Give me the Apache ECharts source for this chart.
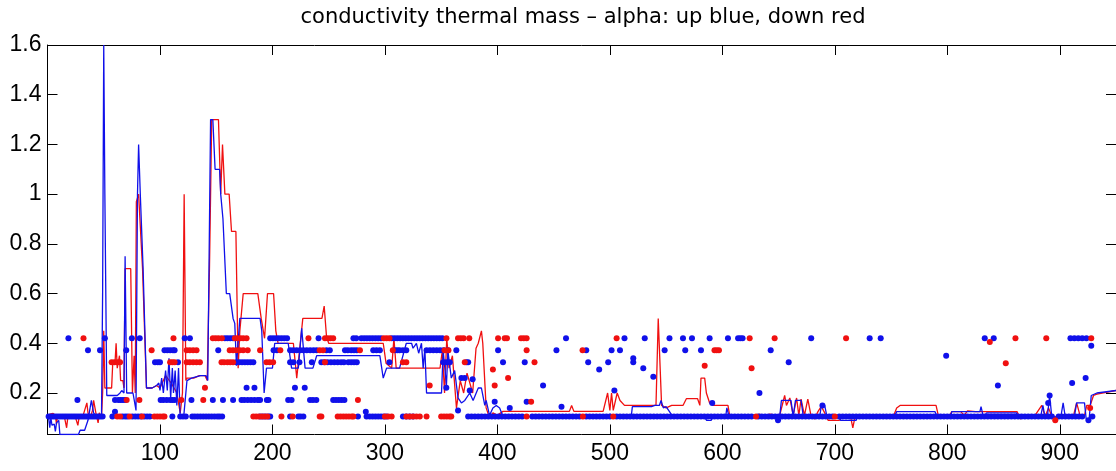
<!DOCTYPE html>
<html><head><meta charset="utf-8">
<script src="https://cdn.jsdelivr.net/npm/echarts@6/dist/echarts.min.js"></script>
<style>html,body{margin:0;padding:0;background:#fff}#c{width:1116px;height:471px}</style>
</head><body><div id="c"></div>
<script>
const titleText = 'conductivity thermal mass \u2013 alpha: up blue, down red';
const xTicks = [100,200,300,400,500,600,700,800,900];
const yTicks = [0.2,0.4,0.6,0.8,1,1.2,1.4,1.6];
const xRange = [0, 950];
const yRange = [0.033, 1.6];

// dot rows (alpha levels)
const levels = { l42: 0.42, l37: 0.372, l32: 0.324, l22: 0.221, l17: 0.172, l10: 0.105 };

const redLine = [[1,0.1],[2,0.115],[5,0.118],[7,0.11],[8,0.075],[9,0.11],[11,0.108],[13,0.11],[15,0.105],[17,0.06],[18,0.1],[20,0.108],[22,0.105],[25,0.1],[27,0.07],[28,0.1],[31,0.1],[33,0.13],[35,0.16],[36,0.12],[38,0.1],[40,0.13],[41,0.17],[43,0.12],[45,0.08],[46,0.12],[48,0.1],[49,0.2],[50,0.45],[51,0.22],[54,0.22],[57,0.22],[58,0.32],[60,0.32],[61,0.4],[62,0.3],[64,0.35],[65,0.25],[67,0.25],[68,0.22],[69,0.7],[74,0.7],[75.5,0.2],[77,0.35],[78,0.2],[79,0.97],[81,1.0],[84.5,0.7],[88,0.22],[93,0.22],[97,0.23],[100,0.22],[105,0.27],[110,0.24],[115,0.2],[118,0.12],[120,0.2],[121.5,1.0],[123,0.25],[124,0.26],[130,0.26],[135,0.27],[140,0.27],[142,0.25],[144,0.7],[146,1.3],[152,1.3],[154,1.0],[155.6,1.2],[157.7,1.0],[161.5,1.0],[163.6,0.85],[167.5,0.85],[169.5,0.3],[171,0.45],[174,0.6],[187,0.6],[190,0.5],[193,0.42],[195.6,0.6],[201,0.6],[203,0.45],[205,0.4],[215,0.4],[218.6,0.4],[221.6,0.26],[227,0.5],[244,0.5],[246,0.55],[248,0.43],[250,0.4],[298.5,0.4],[301,0.32],[306,0.3],[308,0.42],[310,0.3],[349,0.3],[351,0.37],[353,0.2],[355,0.42],[357,0.3],[360,0.35],[363.6,0.14],[367,0.25],[370,0.2],[373,0.28],[378,0.2],[381,0.38],[383,0.4],[385.8,0.45],[387,0.4],[390,0.14],[393,0.1],[396,0.12],[400,0.11],[403,0.12],[405,0.126],[464,0.126],[466,0.15],[468,0.126],[494,0.126],[498,0.2],[500,0.13],[501.5,0.2],[503,0.13],[506.5,0.2],[509,0.17],[513,0.15],[538.6,0.15],[541,0.15],[543,0.5],[546,0.15],[550,0.14],[555,0.15],[565,0.15],[568,0.177],[578,0.177],[580,0.15],[581,0.26],[584.3,0.26],[585.8,0.2],[588.7,0.16],[591.7,0.15],[605,0.15],[606.5,0.11],[630,0.11],[633,0.115],[637,0.105],[642,0.115],[651,0.11],[655.4,0.19],[657,0.15],[660,0.18],[663,0.11],[666,0.18],[668,0.11],[670,0.175],[673,0.11],[676,0.175],[679,0.105],[682,0.095],[685,0.125],[688,0.146],[691,0.12],[694,0.09],[704,0.09],[707,0.105],[714,0.105],[716,0.06],[718,0.105],[752,0.105],[755,0.14],[758,0.15],[790,0.15],[792,0.11],[802,0.11],[804,0.125],[812,0.125],[815,0.11],[818,0.128],[825,0.125],[835,0.125],[845,0.125],[855,0.125],[862,0.125],[865,0.095],[868,0.11],[878,0.11],[881,0.13],[884,0.15],[887,0.105],[890,0.14],[893,0.105],[912,0.105],[915,0.16],[918,0.11],[922,0.11],[924,0.15],[927,0.15],[930,0.19],[933,0.195],[950,0.21]];

const blueLine = [[1,0.1],[2,0.06],[3,0.1],[4,0.07],[6,0.075],[7,0.045],[8,0.08],[10,0.09],[11,0.033],[27.5,0.033],[29,0.05],[33,0.05],[36,0.09],[39,0.17],[41,0.12],[44,0.1],[48,0.1],[49,0.6],[50,1.6],[51,1.0],[52.7,0.19],[58,0.19],[62,0.19],[64.5,0.2],[66,0.21],[68,0.2],[69,0.75],[70.4,0.2],[76,0.2],[78.7,0.13],[80,1.0],[81,1.2],[82.5,1.0],[85,0.7],[88,0.22],[93,0.22],[97,0.23],[99,0.24],[100,0.21],[101.5,0.26],[103,0.2],[105,0.29],[106.5,0.21],[108,0.34],[109.5,0.18],[111,0.3],[112,0.2],[113.5,0.29],[115,0.15],[116.5,0.3],[118,0.1],[121,0.1],[124,0.25],[128,0.26],[132,0.265],[136,0.27],[141,0.27],[142.5,0.25],[145,1.3],[147,1.3],[149,1.1],[153,1.1],[154,1.0],[156,0.9],[159,0.6],[162,0.6],[165,0.5],[166.5,0.48],[168,0.31],[171,0.5],[189,0.5],[190.5,0.45],[192.6,0.2],[194.7,0.3],[200,0.3],[202,0.4],[214,0.4],[217,0.3],[223,0.3],[226,0.46],[229,0.3],[236,0.3],[239.3,0.35],[295.5,0.35],[298.5,0.26],[301.5,0.3],[313,0.3],[319,0.4],[323.7,0.4],[325,0.38],[328,0.4],[330,0.36],[332.5,0.4],[334,0.3],[335.5,0.38],[337,0.2],[350.3,0.2],[351.8,0.37],[354.7,0.23],[356,0.37],[359,0.26],[362,0.29],[365,0.18],[368,0.16],[371,0.17],[375.4,0.2],[378.4,0.17],[383,0.22],[385.8,0.22],[388.8,0.15],[390,0.17],[393,0.11],[396,0.14],[399,0.15],[402,0.14],[405,0.105],[498,0.105],[500,0.115],[503,0.105],[519,0.105],[520,0.145],[537,0.145],[540,0.15],[544,0.15],[545.5,0.17],[547.5,0.14],[550,0.145],[556,0.105],[584,0.105],[586,0.09],[590,0.09],[592,0.105],[603,0.105],[604,0.14],[606,0.105],[651,0.105],[652.5,0.17],[661,0.17],[663,0.105],[665,0.17],[670,0.17],[672,0.105],[686.6,0.105],[688,0.15],[691,0.15],[693,0.105],[704,0.105],[705,0.09],[719,0.09],[720,0.105],[753,0.105],[755,0.125],[789,0.125],[791,0.105],[803,0.105],[804,0.125],[829,0.125],[830,0.145],[832,0.105],[835,0.12],[861.5,0.12],[863,0.105],[883,0.105],[885,0.15],[887,0.1],[889,0.105],[891,0.19],[893,0.1],[901,0.105],[903,0.16],[905,0.1],[913,0.105],[915,0.16],[922,0.16],[923.5,0.095],[926,0.09],[928,0.19],[933,0.2],[950,0.21]];

// blue dots: x positions per row
const blue42 = [18.6,51,75,82,122,126.6,157.7,160,162.5,165,198,200.5,203,205.5,208,210.5,213,241,272,274.5,279,281.5,284,286.5,289,291.5,294,296.5,306,308.5,311,313.5,316,318.5,321,323.5,326,328.5,331,333.5,336,338.5,341,343.5,346,348.5,351,461,513,531,553,565,573,588.7,605,614,616,618,679,731,740.8,833.3,841.3,909.5,913,916.5,920,923.7];
const blue37 = [36,46.7,70,104,106.5,109,111.5,113,151.8,201,204,215.7,218.5,221.5,224.6,227.5,230.5,233.5,236.5,239.3,248,251,264.5,267,270,272.5,275,289.6,292.5,295.5,309,311,313,316,319,337,340,343,346,349,352,356,363.5,400.6,452.5,479,501.5,509,548.7,567,581,643];
const blue32 = [95.6,98,100,116,168,170.5,173,175.5,178,180.5,183,215.7,218.6,224,235,243.5,246,249,252,255,258,261,263.5,267.5,270,272.5,275,304,351.8,354.5,357.7,372.5,374,405,424.3,480.7,498.5,520.8,659];
const blue22 = [177,184,220,228.7,354.6];
const blue17 = [26.6,60,63,65,67,69,100.6,103,106,109,111,113,128,147,156,165,172.5,175,178,181,184,187,189,195,196.5,214,217,233.4,236,239,254,256.5,259,261.5,264];
const blue10 = [1,3,5,7,9,11,13,15,17,19,21,23,25,27,29,31,33,35,37,39,41,43,45,47,49,57.7,66.6,69,71,75.4,78,80.5,83,86,88.5,91,111,118,120.5,123,128.7,131,133.5,136,138.5,141,143.5,146,148.5,151,153,155.3,189,191.5,194,196.5,198,215.7,223,225,227.5,276,283.7,286.5,289,291.5,294,296.5,299,301.5,316,319,322,325,374,377,380,383,386,389,392,395,398,401,404,407,410,413,416,419,422,431,434,437,440,443,446,449,452,455,458,461,464,467,470,473,479,482,485,488,491,494,497,500,506,509,512,515,518,521,524,527,530,533,536,539,542,545,548,551,554,557,560,563,566,569,572,575,578,581,584,587,590,593,596,599,602,605,608,611,614,617,620,623,626,632,635,638,641,644,647,650,653,656,659,662,665,668,671,674,677,680,683,686,689,692,695,698,704,707,710,713,716,719,722,725,728,731,734,737,740,743,746,749,752,755,758,761,764,767,770,773,776,779,782,785,788,791,794,797,800,803,806,809,812,815,818,821,824,827,830,833,836,839,842,845,848,851,854,857,860,863,866,869,872,875,878,881,884,887,890,893,899,902,905,908,911,914,917,920,929];
const blueOther = [[60,0.125],[283,0.125],[440.6,0.23],[457,0.145],[411,0.14],[397.6,0.165],[426,0.165],[490.5,0.295],[504,0.21],[529.7,0.3],[538.6,0.265],[378,0.255],[365,0.13],[375.4,0.21],[368,0.26],[371,0.26],[799,0.35],[911,0.24],[923,0.26],[845,0.23],[633,0.2],[591,0.16],[689,0.15],[889.7,0.16],[891,0.19],[925.5,0.09],[649.5,0.09],[928,0.39],[520.8,0.34]];

// red dots: x positions per row
const red42 = [32,112,147,149.5,152,155,166.6,169,171.5,174,177,232,246.7,249,251.5,254,299,301.5,304,354.7,365,367.5,370,375,400.6,406.5,408.5,421,423.5,426,506,624.3,646.5,710,860.6,888,928];
const red37 = [92.6,123.7,126.5,129.5,132.5,162,165,168,171,174,178,189,207,242,245,277.8,307,353,356.5,426,475.7,593,595,597];
const red32 = [57,59.5,62,64.5,109,111,113,123.7,126.5,129.5,132.5,135.5,154.7,157,160,162.5,165,194.7,197.5,200.6,246.7,316,319,371,433];
const red22 = [140];
const red17 = [70.4,81.7,119,138.5,276];
const red10 = [62,64.5,73,84,95,97.5,100,102.5,104,183,185.5,188,190.5,193,195.5,208,218,242,243.5,258,260.5,263,265.5,268,270.5,272,300,303,306,319,322,325,328,331,337,350,352.5,355,357.5,359,426,476,503,630,700];
const redOther = [[396,0.295],[409.5,0.26],[397.6,0.23],[339.8,0.23],[430,0.165],[837.8,0.405],[626,0.3],[852,0.32],[584.3,0.31],[896,0.09],[927,0.14]];

const RED = '#f01010', BLUE = '#1010ea';

function rows(list) {
  const out = [];
  list.forEach(([xs, lvl]) => xs.forEach(x => out.push([x, lvl])));
  return out;
}
const blueDots = rows([[blue42, levels.l42],[blue37, levels.l37],[blue32, levels.l32],[blue22, levels.l22],[blue17, levels.l17],[blue10, levels.l10]]).concat(blueOther);
const redDots = rows([[red42, levels.l42],[red37, levels.l37],[red32, levels.l32],[red22, levels.l22],[red17, levels.l17],[red10, levels.l10]]).concat(redOther);

const labelFont = { fontSize: 23, color: '#000', fontFamily: 'Liberation Sans, Arial, sans-serif' };
const axisLine = { show: true, onZero: false, lineStyle: { color: '#000', width: 1 } };

function xAx(pos, showLabel) {
  return { type: 'value', min: xRange[0], max: xRange[1], position: pos,
    axisLine, splitLine: { show: false },
    axisTick: { show: true, inside: true, length: 10, customValues: xTicks, lineStyle: { color: '#000', width: 1 } },
    axisLabel: Object.assign({ show: showLabel, customValues: xTicks, margin: 8 }, labelFont) };
}
function yAx(pos, showLabel) {
  return { type: 'value', min: yRange[0], max: yRange[1], position: pos,
    axisLine, splitLine: { show: false },
    axisTick: { show: true, inside: true, length: 10, customValues: yTicks, lineStyle: { color: '#000', width: 1 } },
    axisLabel: Object.assign({ show: showLabel, customValues: yTicks, margin: 6 }, labelFont) };
}

const chart = echarts.init(document.getElementById('c'), null, { renderer: 'canvas' });
chart.setOption({
  animation: false,
  backgroundColor: '#fff',
  grid: { left: 47.5, right: -2, top: 45, bottom: 36.5, containLabel: false },
  graphic: [{ type: 'text', x: 583, y: 18, silent: true,
    style: { text: titleText, fontSize: 21, fontFamily: 'DejaVu Sans, sans-serif', fill: '#000', textAlign: 'center', textVerticalAlign: 'middle' } }],
  xAxis: [xAx('bottom', true), xAx('top', false)],
  yAxis: [yAx('left', true), yAx('right', false)],
  series: [
    { type: 'line', data: redLine, showSymbol: false, symbol: 'none', lineStyle: { color: RED, width: 1.3 }, z: 2 },
    { type: 'line', data: blueLine, showSymbol: false, symbol: 'none', lineStyle: { color: BLUE, width: 1.3 }, z: 3 },
    { type: 'scatter', data: blueDots, symbol: 'circle', symbolSize: 6, itemStyle: { color: BLUE, opacity: 1 }, z: 4 },
    { type: 'scatter', data: redDots, symbol: 'circle', symbolSize: 6, itemStyle: { color: RED, opacity: 1 }, z: 5 }
  ]
});
</script>
</body></html>
